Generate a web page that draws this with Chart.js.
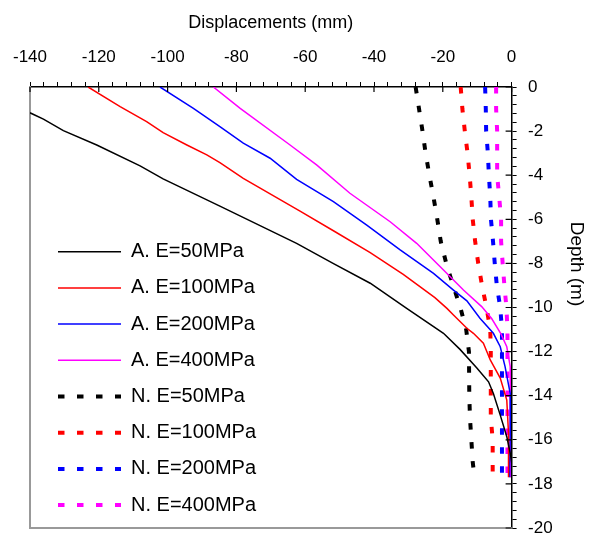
<!DOCTYPE html>
<html>
<head>
<meta charset="utf-8">
<script src="https://cdn.jsdelivr.net/npm/chart.js@4.4.1/dist/chart.umd.min.js"></script>
<style>
  html, body { margin: 0; padding: 0; background: #fff; }
</style>
</head>
<body>
<canvas id="depth-chart" width="592" height="534"></canvas>
<script>
// labelled ticks
var dispTicks = [-140, -120, -100, -80, -60, -40, -20, 0];
var depthTicks = [0, -2, -4, -6, -8, -10, -12, -14, -16, -18, -20];

// A. curves (solid)
var depthA50 = [-1.17, -1.46, -1.98, -2.63, -3.58, -4.17, -5.40, -7.09, -8.00, -8.90, -10.04, -11.17, -11.90, -12.74, -13.37, -13.90, -14.88, -15.86, -16.60, -17.22, -17.72];
var dispA50 = [-140, -136.1, -130.3, -120.6, -108.0, -101.3, -84.8, -62.5, -51.9, -41.1, -30.5, -19.8, -15.0, -10.1, -6.7, -5.3, -3.3, -1.4, -0.4, 0.2, 0];

var depthA100 = [0, -0.89, -1.57, -2.07, -2.63, -3.08, -3.43, -4.14, -5.63, -6.52, -7.51, -8.50, -9.55, -10.04, -10.34, -10.94, -11.17, -11.62, -12.38, -13.20, -14.20, -15.70, -17.70];
var dispA100 = [-123.1, -113.8, -106.1, -101.3, -94.4, -88.6, -84.8, -78.0, -61.5, -51.8, -41.1, -31.5, -22.3, -18.8, -16.9, -13.0, -11.1, -8.2, -6.2, -3.3, -1.4, -0.9, -0.9];

var depthA200 = [0, -0.97, -1.80, -2.55, -3.23, -4.19, -5.20, -6.26, -7.39, -8.45, -9.21, -9.70, -10.49, -11.17, -11.78, -12.68, -13.90, -15.70, -17.70];
var dispA200 = [-102.2, -92.5, -84.8, -78.0, -70.2, -62.5, -51.8, -42.1, -32.4, -22.7, -16.9, -13.0, -9.2, -5.3, -3.3, -1.9, -0.4, -0.4, -0.6];

var depthA400 = [0, -0.97, -2.63, -3.54, -4.82, -6.11, -7.09, -8.30, -9.21, -9.96, -10.50, -11.20, -11.78, -12.68, -17.70];
var dispA400 = [-86.7, -78.9, -64.4, -56.6, -47.0, -35.3, -27.6, -19.8, -14.0, -8.7, -5.8, -3.1, -1.4, -0.4, -0.4];

// N. curves (dashed), same depths for all four
var depthN = [0, -1, -2, -3, -4, -5, -6, -7, -8, -9, -10, -11, -12, -13, -14, -15, -16, -17, -17.7];
var dispN50 = [-27.9, -26.9, -25.9, -25.0, -23.9, -22.7, -21.6, -20.6, -19.0, -17.0, -14.9, -13.2, -12.4, -12.35, -12.3, -12.1, -11.7, -11.3, -10.8];
var dispN100 = [-14.8, -14.3, -13.6, -12.8, -12.2, -11.7, -11.3, -10.6, -9.7, -8.6, -7.3, -6.2, -6.05, -6.05, -6.05, -6.05, -5.5, -5.5, -5.5];
var dispN200 = [-7.7, -7.5, -7.4, -6.9, -6.6, -6.2, -6.0, -5.4, -4.9, -4.3, -3.3, -2.8, -2.8, -2.8, -2.8, -2.8, -2.8, -2.8, -2.8];
var dispN400 = [-4.5, -4.5, -4.2, -4.2, -4.2, -3.6, -3.05, -3.05, -2.6, -2.1, -1.5, -1.2, -1.2, -1.2, -1.2, -1.2, -1.2, -1.2, -1.2];

function pts(xs, ys) {
    return xs.map(function (v, i) { return { x: v, y: ys[i] }; });
}

function solid(label, color, xs, ys) {
    return { label: label, data: pts(xs, ys), borderColor: color, backgroundColor: color,
             borderWidth: 1.5, pointRadius: 0, showLine: true };
}

function dashed(label, color, xs, ys) {
    return { label: label, data: pts(xs, ys), borderColor: color, backgroundColor: color,
             borderWidth: 4, borderDash: [6.5, 12.5], pointRadius: 0, showLine: true };
}

// inward half of the labelled ticks
var majorTicks = {
    id: 'majorTicks',
    afterDatasetsDraw: function (chart) {
        var ctx = chart.ctx, a = chart.chartArea, x = chart.scales.x, y = chart.scales.y;
        ctx.save();
        ctx.strokeStyle = '#000';
        ctx.lineWidth = 1.2;
        ctx.beginPath();
        dispTicks.forEach(function (v) {
            var px = x.getPixelForValue(v);
            ctx.moveTo(px, a.top);
            ctx.lineTo(px, a.top + 5);
        });
        depthTicks.forEach(function (v) {
            var py = y.getPixelForValue(v);
            ctx.moveTo(a.right, py);
            ctx.lineTo(a.right - 6, py);
        });
        ctx.stroke();
        ctx.restore();
    }
};

// put the legend in the lower left of the plot
var legendPlace = {
    id: 'legendPlace',
    afterLayout: function (chart) {
        var lg = chart.legend, a = chart.chartArea;
        lg.left = a.left + 11.8;
        lg.right = a.right;
        lg.top = a.top + 138.5;
        lg.bottom = a.bottom + 60;
    }
};

Chart.defaults.font.family = '"Liberation Sans", Arial, sans-serif';
Chart.defaults.color = '#000';

var ctx = document.getElementById('depth-chart').getContext('2d');
var chart = new Chart(ctx, {
    type: 'scatter',
    data: {
        datasets: [
            solid('A. E=50MPa', '#000000', dispA50, depthA50),
            solid('A. E=100MPa', '#ff0000', dispA100, depthA100),
            solid('A. E=200MPa', '#0000ff', dispA200, depthA200),
            solid('A. E=400MPa', '#ff00ff', dispA400, depthA400),
            dashed('N. E=50MPa', '#000000', dispN50, depthN),
            dashed('N. E=100MPa', '#ff0000', dispN100, depthN),
            dashed('N. E=200MPa', '#0000ff', dispN200, depthN),
            dashed('N. E=400MPa', '#ff00ff', dispN400, depthN)
        ]
    },
    options: {
        responsive: false,
        animation: false,
        events: [],
        layout: { padding: { left: 30, right: 0, top: 0, bottom: 6 } },
        scales: {
            x: {
                type: 'linear', position: 'top', min: -140, max: 0,
                ticks: {
                    stepSize: 4, autoSkip: false, minRotation: 0, maxRotation: 0, padding: 14,
                    font: { size: 17 }, color: '#000',
                    callback: function (v) { return dispTicks.indexOf(v) >= 0 ? v : ''; }
                },
                grid: { drawOnChartArea: false, drawTicks: true, tickLength: 5, color: '#000', lineWidth: 1 },
                border: { color: '#000', width: 1.5 },
                title: { display: true, text: 'Displacements (mm)', font: { size: 18 }, color: '#000',
                         padding: { top: 12, bottom: 0 } },
                afterFit: function (s) {
                    s.height = 87;
                    s.paddingLeft = 0;
                    s.paddingRight = 0;
                }
            },
            y: {
                type: 'linear', position: 'right', min: -20, max: 0,
                ticks: {
                    stepSize: 0.4, autoSkip: false, padding: 11.5,
                    font: { size: 17 }, color: '#000',
                    callback: function (v) { return depthTicks.indexOf(v) >= 0 ? v : ''; }
                },
                grid: { drawOnChartArea: false, drawTicks: true, tickLength: 5, color: '#000', lineWidth: 1 },
                border: { color: '#000', width: 1.5 },
                afterFit: function (s) {
                    s.width = 41;
                    s.paddingTop = 0;
                    s.paddingBottom = 0;
                }
            },
            // grey frame on the other two sides
            xb: {
                axis: 'x', type: 'linear', position: 'bottom', min: 0, max: 1,
                ticks: { display: false },
                grid: { display: false, drawTicks: false },
                border: { color: '#999', width: 2 }
            },
            yl: {
                axis: 'y', type: 'linear', position: 'left', min: 0, max: 1,
                ticks: { display: false },
                grid: { display: false, drawTicks: false },
                border: { color: '#999', width: 2 }
            }
        },
        plugins: {
            legend: {
                position: 'chartArea',
                align: 'start',
                labels: {
                    usePointStyle: true, pointStyle: 'line', pointStyleWidth: 63,
                    padding: 16.2, color: '#000', font: { size: 20 },
                    generateLabels: function (chart) {
                        var items = Chart.defaults.plugins.legend.labels.generateLabels(chart);
                        items.forEach(function (it) {
                            var ds = chart.data.datasets[it.datasetIndex];
                            it.lineDash = ds.borderDash || [];
                            it.lineWidth = ds.borderWidth;
                        });
                        return items;
                    }
                }
            },
            title: {
                display: true, position: 'right', text: 'Depth (m)', color: '#000',
                font: { size: 19, weight: 'normal' }, padding: { top: 4.6, bottom: 12 }
            },
            tooltip: { enabled: false }
        }
    },
    plugins: [majorTicks, legendPlace]
});
</script>
</body>
</html>
